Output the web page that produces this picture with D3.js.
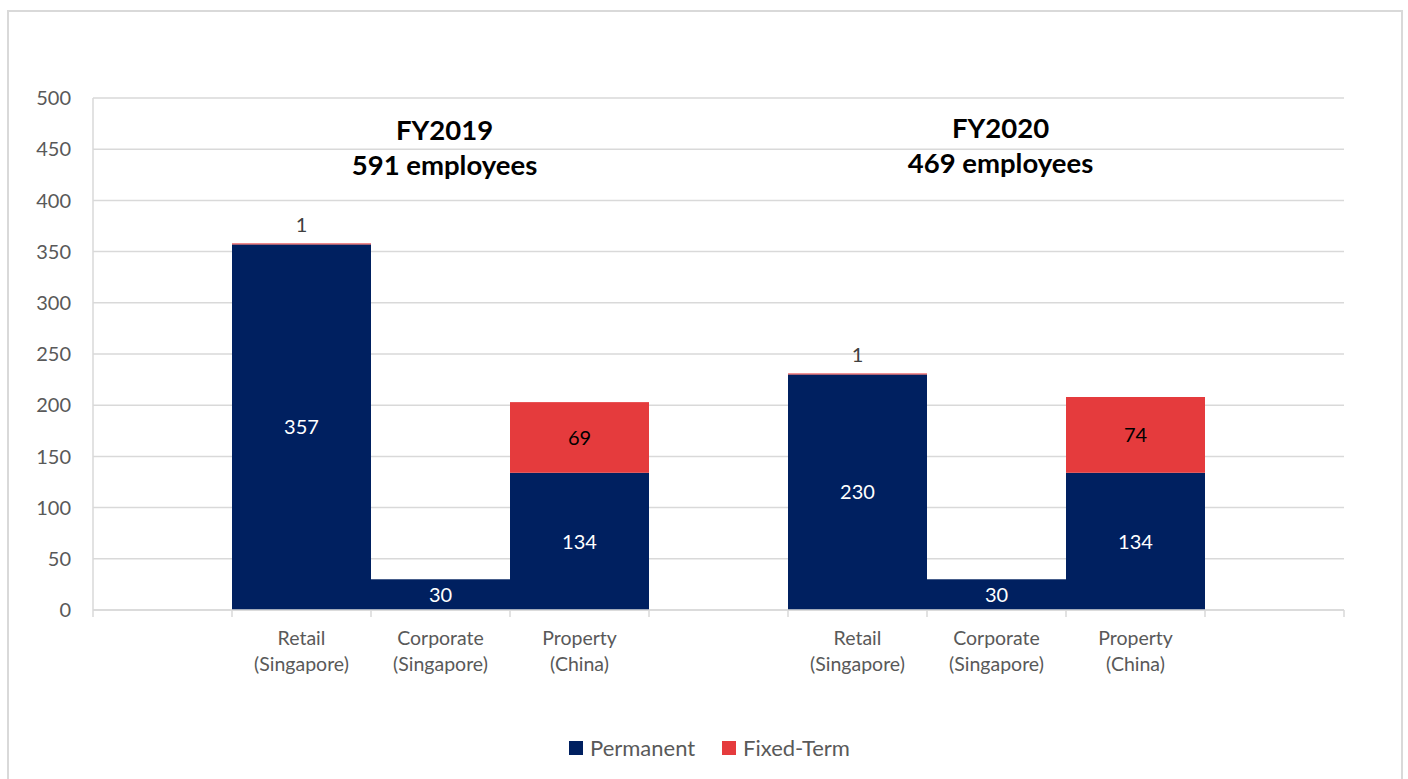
<!DOCTYPE html>
<html>
<head>
<meta charset="utf-8">
<script src="https://cdn.jsdelivr.net/npm/d3@7"></script>
<style>
  html, body { margin: 0; padding: 0; background: #fff; }
  svg { display: block; }
  text { font-family: Lato, "Open Sans", sans-serif; }
</style>
</head>
<body>
<svg id="chart" width="1408" height="779"></svg>
<script>
// Employees by segment and contract type
const years = ["FY2019", "FY2020"];
const yearTotals = [591, 469];
const segmentLines = [["Retail", "(Singapore)"], ["Corporate", "(Singapore)"], ["Property", "(China)"]];
const permanent = [[357, 30, 134], [230, 30, 134]];
const fixedTerm = [[1, 0, 69], [1, 0, 74]];
const yTicks = [0, 50, 100, 150, 200, 250, 300, 350, 400, 450, 500];
const seriesNames = ["Permanent", "Fixed-Term"];
const seriesColors = ["#002060", "#E53B3D"];

(function () {
const svg = d3.select("#chart");
const W = 1408, H = 779;
const plotLeft = 93, plotRight = 1344, plotTop = 98, plotBottom = 610;

// outer frame
svg.append("rect")
  .attr("x", 8).attr("y", 11).attr("width", 1394).attr("height", H + 10)
  .attr("fill", "#fff").attr("stroke", "#d9d9d9").attr("stroke-width", 2);

// slots: an empty slot before, between and after each year group
const slots = [];
const rows = [];
years.forEach((yr, yi) => {
  slots.push("gap" + yi);
  segmentLines.forEach((seg, si) => {
    const key = yr + "|" + si;
    slots.push(key);
    rows.push({ key, yi, si, perm: permanent[yi][si], fixed: fixedTerm[yi][si] });
  });
});
slots.push("gapEnd");

const x = d3.scaleBand().domain(slots).range([plotLeft, plotRight]).padding(0);
const y = d3.scaleLinear().domain([0, 500]).range([plotBottom, plotTop]);

// gridlines
svg.append("g").selectAll("line").data(yTicks).join("line")
  .attr("x1", plotLeft).attr("x2", plotRight)
  .attr("y1", d => y(d)).attr("y2", d => y(d))
  .attr("stroke", "#d9d9d9").attr("stroke-width", 1.5);

// y axis line
svg.append("line")
  .attr("x1", plotLeft).attr("x2", plotLeft).attr("y1", y(500)).attr("y2", y(0))
  .attr("stroke", "#d9d9d9").attr("stroke-width", 1.5);

// y tick labels
svg.append("g").selectAll("text").data(yTicks).join("text")
  .attr("x", 71).attr("y", d => y(d)).attr("dy", "0.36em")
  .attr("text-anchor", "end").attr("font-size", 20).attr("fill", "#595959")
  .text(d => d);

// stacked bars
const barG = svg.append("g");
barG.selectAll("rect.perm").data(rows).join("rect")
  .attr("class", "perm")
  .attr("x", d => x(d.key)).attr("width", x.bandwidth())
  .attr("y", d => y(d.perm)).attr("height", d => y(0) - y(d.perm))
  .attr("fill", seriesColors[0]);
barG.selectAll("rect.fixed").data(rows.filter(d => d.fixed > 0)).join("rect")
  .attr("class", "fixed")
  .attr("x", d => x(d.key)).attr("width", x.bandwidth())
  .attr("y", d => y(d.perm + d.fixed)).attr("height", d => y(d.perm) - y(d.perm + d.fixed))
  .attr("fill", seriesColors[1]);

// x axis line and ticks at each slot boundary
const xAxis = svg.append("g");
xAxis.append("line")
  .attr("x1", plotLeft).attr("x2", plotRight).attr("y1", plotBottom).attr("y2", plotBottom)
  .attr("stroke", "#d9d9d9").attr("stroke-width", 1.5);
const bounds = slots.map(s => x(s)).concat([plotRight]);
xAxis.selectAll("line.tick").data(bounds).join("line")
  .attr("class", "tick")
  .attr("x1", d => d).attr("x2", d => d).attr("y1", plotBottom).attr("y2", plotBottom + 7)
  .attr("stroke", "#d9d9d9").attr("stroke-width", 1.5);

// category labels
const catText = xAxis.selectAll("text").data(rows).join("text")
  .attr("text-anchor", "middle").attr("font-size", 19.5).attr("fill", "#595959");
catText.selectAll("tspan").data(d => segmentLines[d.si].map(t => ({ t, d }))).join("tspan")
  .attr("x", o => x(o.d.key) + x.bandwidth() / 2)
  .attr("y", (o, i) => 645 + i * 26)
  .text(o => o.t);

// value labels
const lab = svg.append("g").attr("font-size", 20);
lab.selectAll("text.perm").data(rows).join("text")
  .attr("class", "perm")
  .attr("x", d => x(d.key) + x.bandwidth() / 2)
  .attr("y", d => y(d.perm / 2)).attr("dy", "0.36em")
  .attr("text-anchor", "middle").attr("fill", "#fff")
  .text(d => d.perm);
lab.selectAll("text.fixed").data(rows.filter(d => d.fixed > 0)).join("text")
  .attr("class", "fixed")
  .attr("x", d => x(d.key) + x.bandwidth() / 2)
  .attr("y", d => {
    const h = y(d.perm) - y(d.perm + d.fixed);
    return h < 20 ? y(d.perm + d.fixed) - 19 : y(d.perm + d.fixed / 2);
  })
  .attr("dy", "0.36em")
  .attr("text-anchor", "middle")
  .attr("fill", d => (y(d.perm) - y(d.perm + d.fixed)) < 20 ? "#404040" : "#000")
  .text(d => d.fixed);

// year titles centred over each group
const titles = svg.append("g").attr("font-weight", "bold").attr("font-size", 27.5).attr("fill", "#000");
years.forEach((yr, yi) => {
  const cx = x(yr + "|1") + x.bandwidth() / 2 + 4;
  const t = titles.append("text").attr("text-anchor", "middle");
  t.append("tspan").attr("x", cx).attr("y", 140 - yi * 2).text(yr);
  t.append("tspan").attr("x", cx).attr("y", 175 - yi * 2).text(yearTotals[yi] + " employees");
});

// legend
const legend = svg.append("g").attr("font-size", 22).attr("fill", "#595959");
const legX = [569, 722];
seriesNames.forEach((name, i) => {
  legend.append("rect").attr("x", legX[i]).attr("y", 741).attr("width", 14).attr("height", 14)
    .attr("fill", seriesColors[i]);
  legend.append("text").attr("x", legX[i] + 21).attr("y", 748).attr("dy", "0.36em").text(name);
});
})();
</script>
</body>
</html>
